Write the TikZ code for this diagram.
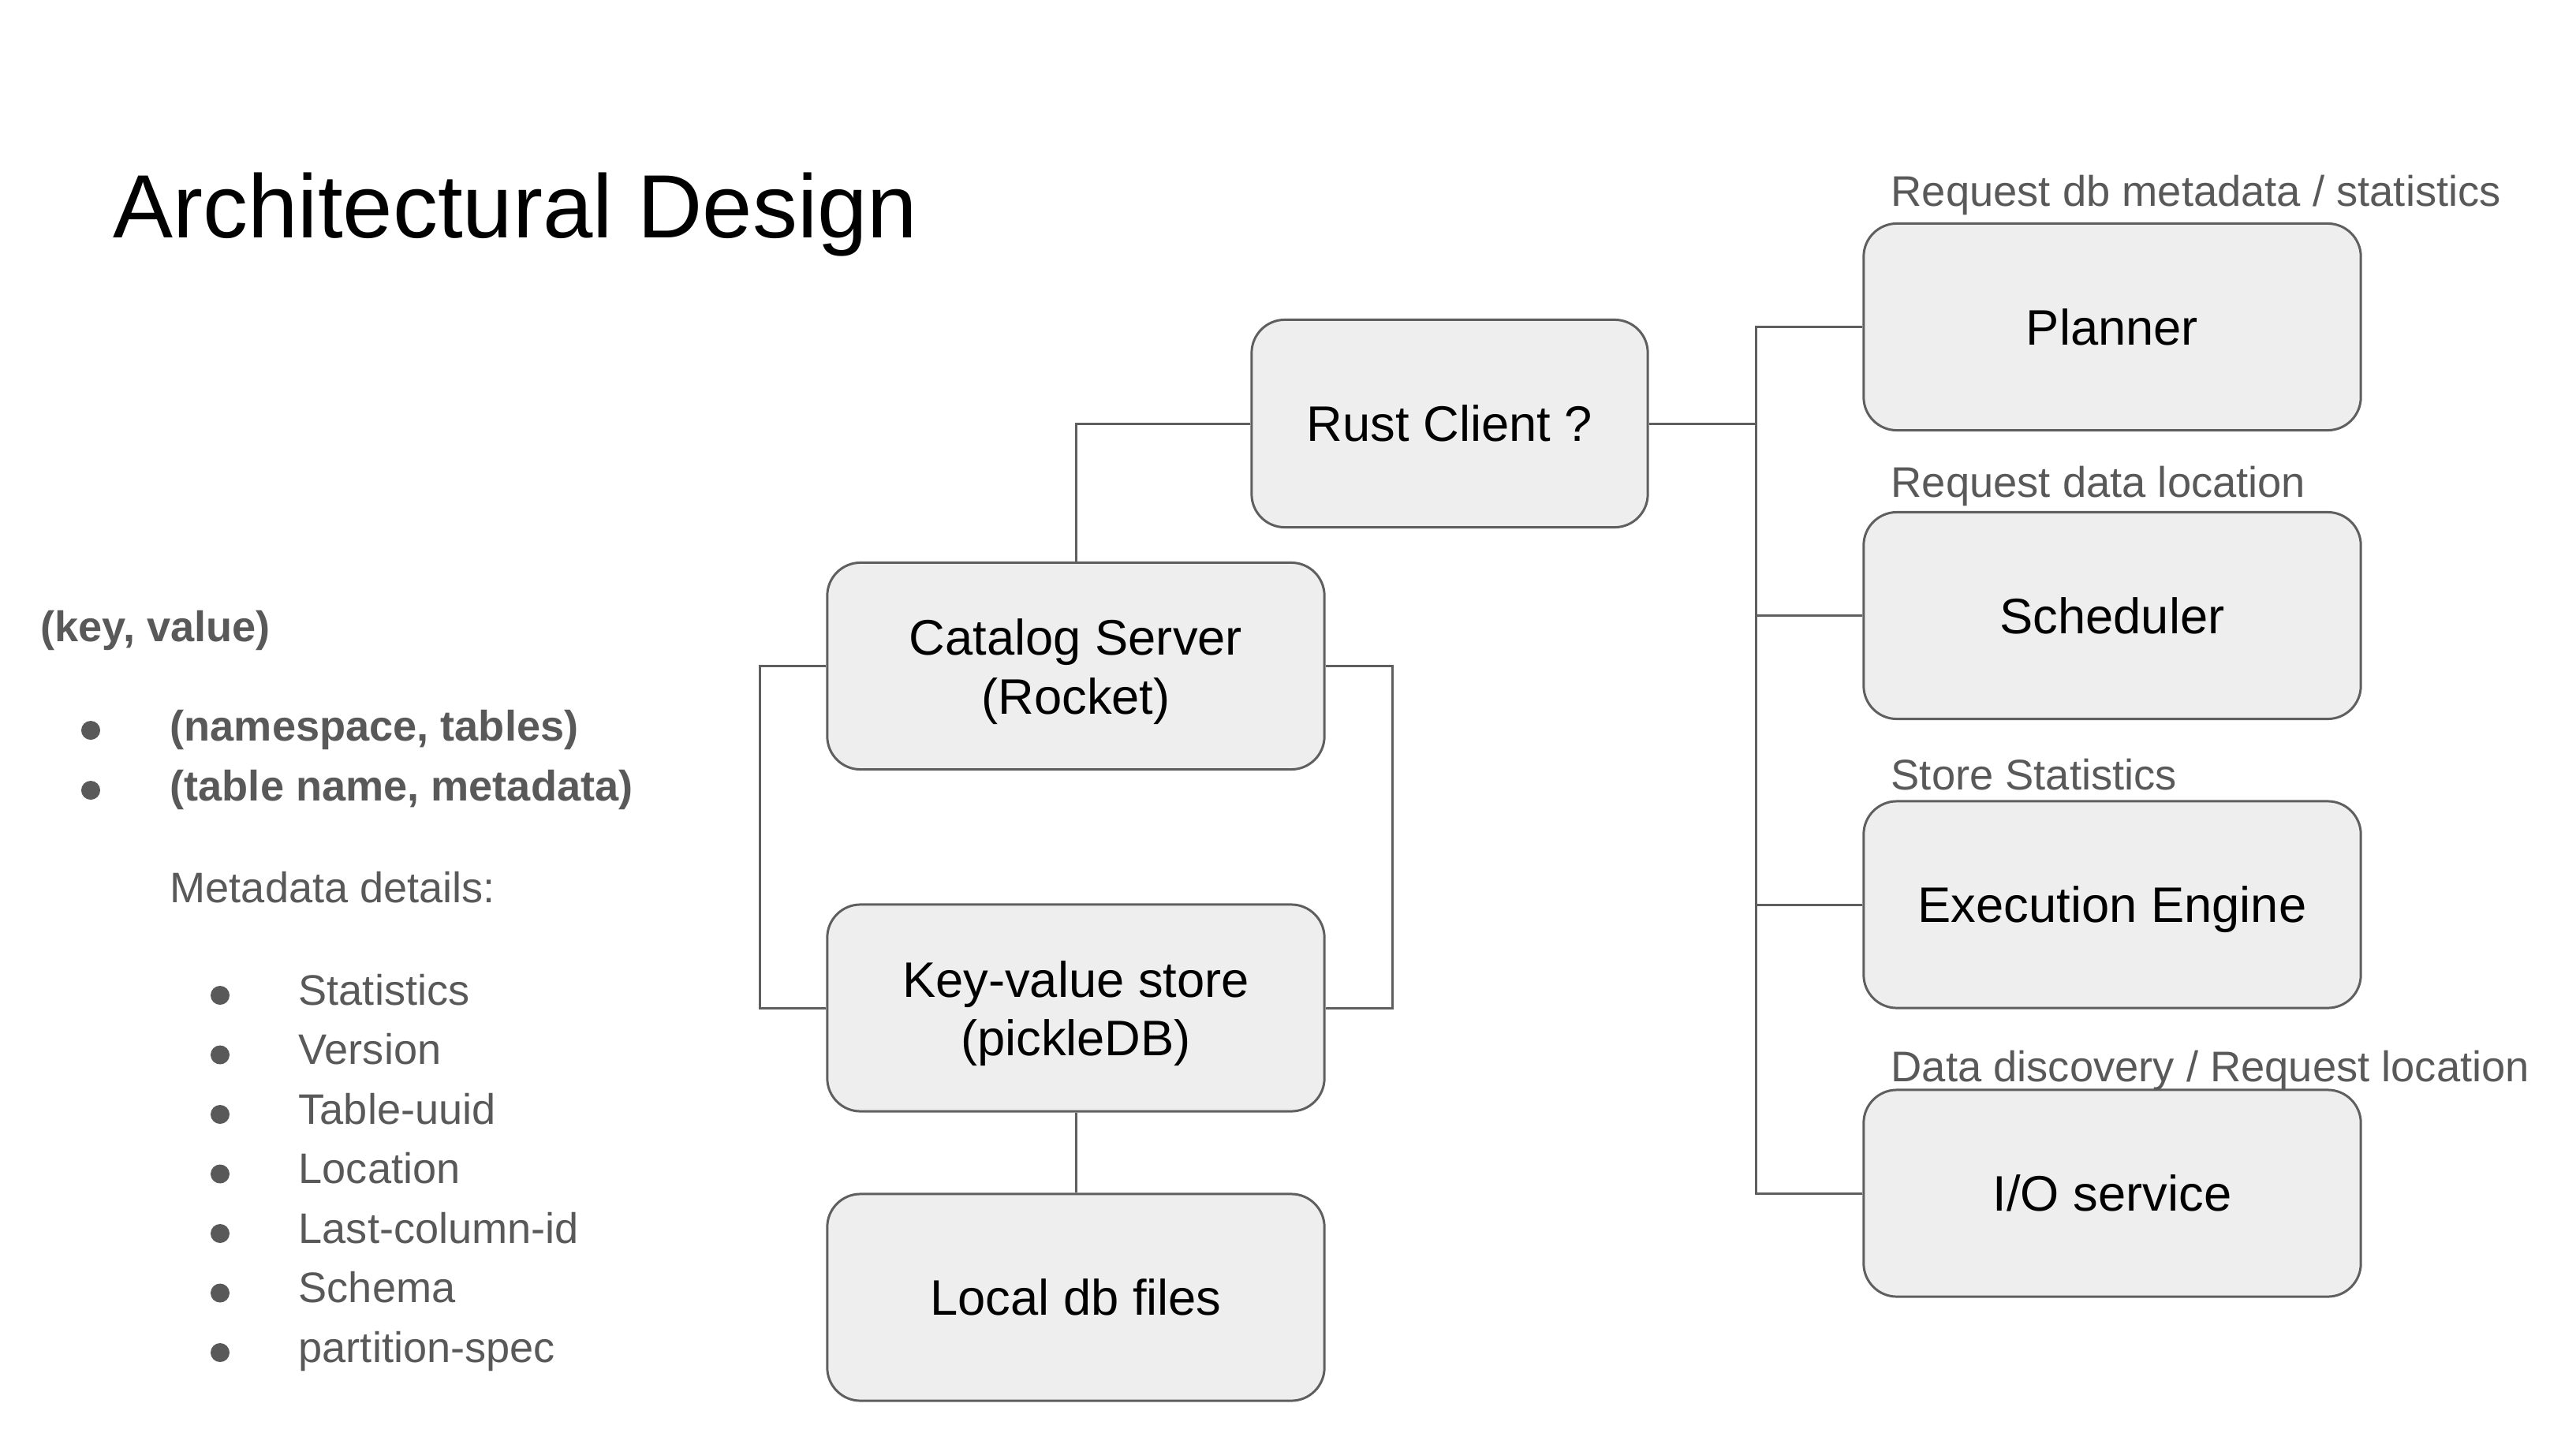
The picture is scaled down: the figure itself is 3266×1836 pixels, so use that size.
\documentclass[tikz,border=0pt]{standalone}
\usepackage{fontspec}
\setmainfont{Liberation Sans}
\definecolor{bordergray}{HTML}{5F5F5F}
\definecolor{fillgray}{HTML}{EEEEEE}
\definecolor{textgray}{HTML}{595959}
\newcommand{\firststrut}{\rule{0pt}{17.1pt}}
\begin{document}
\begin{tikzpicture}[x=0.01cm,y=-0.01cm,
  box/.style={draw=bordergray, fill=fillgray, line width=0.85pt, rounded corners=0.42cm,
    minimum width=6.30cm, minimum height=2.62cm, inner sep=0pt,
    font=\fontsize{18}{21.3}\selectfont, align=center},
  single/.style={text depth=0pt},
  conn/.style={draw=bordergray, line width=0.85pt},
  lbl/.style={anchor=base west, text=textgray, inner sep=0pt, font=\fontsize{15.45}{18}\selectfont},
  lst/.style={anchor=base west, text=textgray, inner sep=0pt, font=\fontsize{15.4}{18}\selectfont},
  lstb/.style={lst, font=\fontsize{15.4}{18}\selectfont\bfseries},
  blt/.style={circle, fill=textgray, inner sep=0pt, minimum size=0.24cm}
]
\useasboundingbox (0,0) rectangle (3266,1836);

% title
\node[anchor=base west, inner sep=0pt, font=\fontsize{32.4}{38}\selectfont] (title) at (143,301) {Architectural Design};

% left list
\node[lstb] (kvtitle) at (51,813) {(key, value)};
\node[blt] (b1) at (115,926) {};
\node[lstb] (l1) at (215,939) {(namespace, tables)};
\node[blt] (b2) at (115,1002) {};
\node[lstb] (l2) at (215,1015) {(table name, metadata)};
\node[lst] (md) at (215,1144) {Metadata details:};
\foreach \t [count=\i from 0] in {Statistics,Version,Table-uuid,Location,Last-column-id,Schema,partition-spec}{
  \node[blt] (sb\i) at (279,{1262+75.5*\i}) {};
  \node[lst] (st\i) at (378,{1274+75.5*\i}) {\t};
}

% boxes
\node[box, single, minimum width=5.02cm, minimum height=2.63cm] (rust) at (1838,537) {Rust Client ?};
\node[box] (cat) at (1364,844.5) {\firststrut Catalog Server\\(Rocket)};
\node[box] (kv) at (1364,1278) {\firststrut Key-value store\\(pickleDB)};
\node[box, single] (local) at (1364,1645) {Local db files};

\node[box, single] (planner) at (2678,414.5) {Planner};
\node[box, single] (sched) at (2678,780.5) {Scheduler};
\node[box, single] (exec) at (2678,1147) {Execution Engine};
\node[box, single] (io) at (2678,1513) {I/O service};

% labels
\node[lbl] (lab1) at (2397,261) {Request db metadata / statistics};
\node[lbl] (lab2) at (2397,630) {Request data location};
\node[lbl] (lab3) at (2397,1001) {Store Statistics};
\node[lbl] (lab4) at (2397,1371) {Data discovery / Request location};

% connectors
\coordinate (bus) at (2226,537);
\coordinate (lloop) at (963,0);
\coordinate (rloop) at (1765,0);
\draw[conn] (cat.north) |- (rust.west);
\draw[conn] (rust.east) -- (bus);
\draw[conn] (planner.west) -- (planner.west -| bus) -- (io.west -| bus) -- (io.west);
\draw[conn] (sched.west) -- (sched.west -| bus);
\draw[conn] (exec.west) -- (exec.west -| bus);
\draw[conn] (cat.west) -- (cat.west -| lloop) -- (kv.west -| lloop) -- (kv.west);
\draw[conn] (cat.east) -- (cat.east -| rloop) -- (kv.east -| rloop) -- (kv.east);
\draw[conn] (kv.south) -- (local.north);
\end{tikzpicture}
\end{document}
